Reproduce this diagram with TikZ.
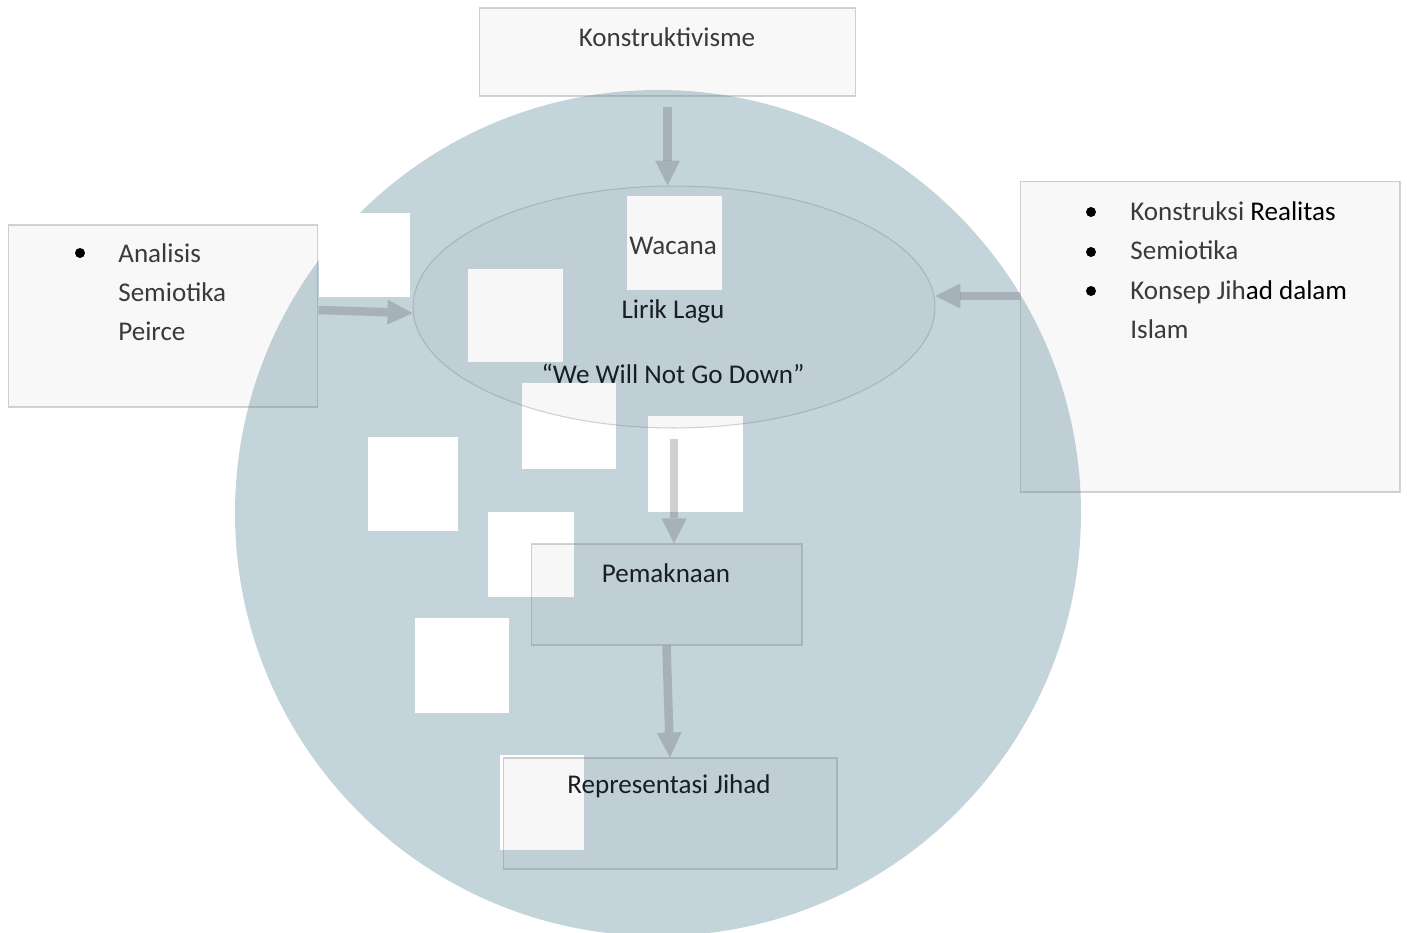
\documentclass[tikz,border=0pt]{standalone}
\usepackage{fontspec}
\setmainfont{Carlito}
\usetikzlibrary{shapes.geometric,arrows.meta,positioning}
\definecolor{wmblue}{RGB}{195,212,219}
\definecolor{txtgray}{RGB}{58,58,58}
\definecolor{txtdark}{RGB}{24,30,34}

\tikzset{
  box/.style={draw=gray, draw opacity=0.35, fill=gray, fill opacity=0.06, line width=0.6pt},
  flow/.style={draw=black!60, opacity=0.3, line width=0.17cm, -{Triangle[width=0.5cm,length=0.5cm,line width=0pt]}},
  txt/.style={font=\fontsize{15.4}{18}\selectfont, text=txtgray, inner sep=0pt},
  dot/.style={circle, fill=black, inner sep=0pt, minimum size=0.2cm},
  blob/.style={fill=white}
}

\begin{document}
\begin{tikzpicture}[x=0.02cm, y=-0.02cm]
  \useasboundingbox (0,0) rectangle (1407,933);

  % watermark
  \fill[wmblue] (658,513) circle (423);
  \fill[blob] (319,213) rectangle (410,297);
  \fill[blob] (627,196) rectangle (722,290);
  \fill[blob] (468,269) rectangle (563,362);
  \fill[blob] (522,383) rectangle (616,469);
  \fill[blob] (648,416) rectangle (743,512);
  \fill[blob] (368,437) rectangle (458,531);
  \fill[blob] (488,512) rectangle (574,597);
  \fill[blob] (415,618) rectangle (509,713);
  \fill[blob] (500,755) rectangle (584,850);

  % boxes
  \node[box, minimum width=7.54cm, minimum height=1.76cm] (konst) at (667.5,52) {};
  \node[box, minimum width=6.2cm, minimum height=3.64cm] (teori) at (163,316) {};
  \node[box, minimum width=7.6cm, minimum height=6.22cm] (konsep) at (1210,336.5) {};
  \node[box, ellipse, minimum width=10.44cm, minimum height=4.84cm] (wacana) at (674,307) {};
  \node[box, minimum width=5.42cm, minimum height=2.02cm] (makna) at (666.5,594.5) {};
  \node[box, minimum width=6.68cm, minimum height=2.22cm] (repr) at (670,813.5) {};

  % texts
  \node[txt, anchor=base] (konstlbl) at (667,46) {Konstruktivisme};

  \node[dot] (tdot) at (80,253) {};
  \node[txt, anchor=base west] (t1) at (118,262) {Analisis};
  \node[txt, anchor=base west] (t2) at (118,301) {Semiotika};
  \node[txt, anchor=base west] (t3) at (118,340) {Peirce};

  \node[dot] (kdot1) at (1091,212) {};
  \node[dot] (kdot2) at (1091,252) {};
  \node[dot] (kdot3) at (1091,291) {};
  \node[txt, anchor=base west] (k1) at (1130,220) {Konstruksi \textcolor{black}{Realitas}};
  \node[txt, anchor=base west] (k2) at (1130,259) {Semiotika};
  \node[txt, anchor=base west] (k3) at (1130,299) {Konsep Jih\textcolor{black}{ad dalam}};
  \node[txt, anchor=base west] (k4) at (1130,338) {Islam};

  \node[txt, anchor=base] (w1) at (673,254) {Wacana};
  \node[txt, anchor=base, text=txtdark] (w2) at (673,318) {Lirik Lagu};
  \node[txt, anchor=base, text=txtdark] (w3) at (673,383) {“We Will Not Go Down”};

  \node[txt, anchor=base, text=txtdark] (mlbl) at (666,582) {Pemaknaan};
  \node[txt, anchor=base, text=txtdark] (rlbl) at (669,793) {Representasi Jihad};

  % arrows
  \draw[flow] ([yshift=-0.2cm]konst.south) -- (konst.south |- wacana.north);
  \draw[flow] ([yshift=0.12cm]teori.east) -- ([yshift=-0.12cm]wacana.west);
  \draw[flow] ([yshift=0.22cm]wacana.east -| konsep.west) -- ([yshift=0.22cm]wacana.east);
  \draw[flow] ([yshift=-0.2cm]wacana.south) -- (wacana.south |- makna.north);
  \draw[flow] (makna.south) -- (repr.north);
\end{tikzpicture}
\end{document}
